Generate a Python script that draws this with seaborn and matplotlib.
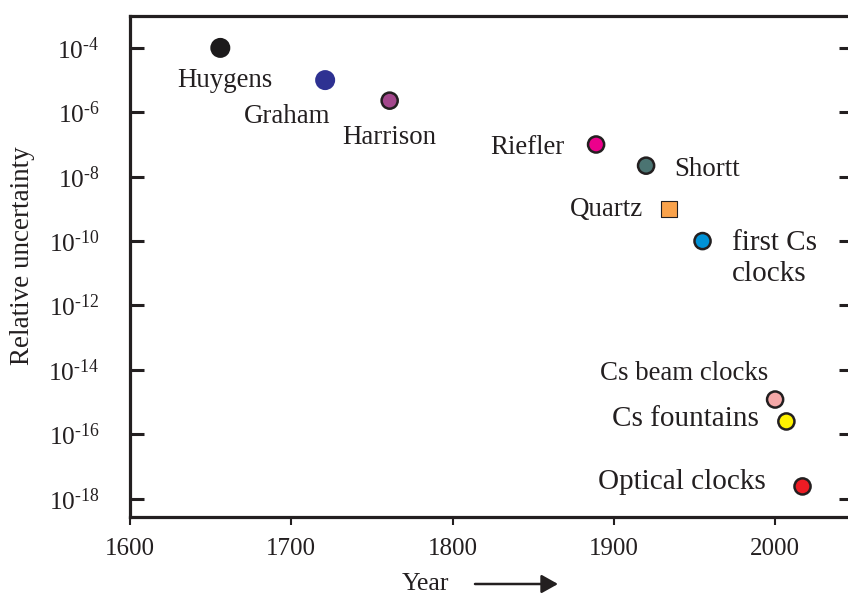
import numpy as np
import pandas as pd
import matplotlib
matplotlib.use("Agg")
import matplotlib.pyplot as plt
import seaborn as sns

# --- data -------------------------------------------------------------
clocks = ["Huygens", "Graham", "Harrison", "Riefler", "Shortt", "Quartz",
          "first Cs\nclocks", "Cs beam clocks", "Cs fountains", "Optical clocks"]
years = [1656, 1721, 1761, 1889, 1920, 1934, 1955, 2000, 2007, 2017]
uncertainty = [1e-4, 1e-5, 2.3e-6, 1e-7, 2.2e-8, 1e-9, 1e-10, 1.2e-15, 2.5e-16, 2.4e-18]
marker_kind = ["circle", "circle", "circle", "circle", "circle", "square",
               "circle", "circle", "circle", "circle"]

x_ticks = [1600, 1700, 1800, 1900, 2000]
y_exponents = [-4, -6, -8, -10, -12, -14, -16, -18]

# --- styling ----------------------------------------------------------
ink = "#231f20"
face_colors = {
    "Huygens": "#1c1a1b",
    "Graham": "#2e3192",
    "Harrison": "#a3478c",
    "Riefler": "#ec008c",
    "Shortt": "#4b7472",
    "Quartz": "#f9a24b",
    "first Cs\nclocks": "#0092d7",
    "Cs beam clocks": "#f5a8a8",
    "Cs fountains": "#fff200",
    "Optical clocks": "#ed1c24",
}
# edge colour / width per clock (the first two are plain filled dots)
edge_colors = ["#1c1a1b", "#2e3192"] + [ink] * 8
edge_widths = [2.8, 2.8, 1.8, 1.8, 1.8, 0.8, 1.8, 1.8, 1.8, 1.8]

# label placement: (dx px, dy px to last baseline, ha, fontsize)
label_style = {
    "Huygens": (5, -39, "center", 19.4),
    "Graham": (5, -43, "right", 19.4),
    "Harrison": (0, -43, "center", 19.4),
    "Riefler": (-32, -10, "right", 19.4),
    "Shortt": (28, -10, "left", 19.4),
    "Quartz": (-26, -7, "right", 19.4),
    "first Cs\nclocks": (29, -40, "left", 21),
    "Cs beam clocks": (-7, 20, "right", 19.4),
    "Cs fountains": (-28, -5, "right", 21),
    "Optical clocks": (-37, -3, "right", 21),
}

sns.set_style("white")
plt.rcParams["font.family"] = ["Liberation Serif", "DejaVu Serif"]
plt.rcParams["mathtext.fontset"] = "custom"
plt.rcParams["mathtext.rm"] = "Liberation Serif"
plt.rcParams["mathtext.it"] = "Liberation Serif:italic"
plt.rcParams["mathtext.bf"] = "Liberation Serif:bold"
plt.rcParams["text.color"] = ink

W, H = 848, 594
fig = plt.figure(figsize=(W / 100, H / 100), dpi=100)
ax_l, ax_r, ax_t, ax_b = 130, 853, 15.7, 516.7
ax = fig.add_axes([ax_l / W, 1 - ax_b / H, (ax_r - ax_l) / W, (ax_b - ax_t) / H])
ax.set_yscale("log")

df = pd.DataFrame({"clock": clocks, "year": years,
                   "uncertainty": uncertainty, "kind": marker_kind})

sns.scatterplot(data=df, x="year", y="uncertainty", hue="clock",
                palette=face_colors, style="kind",
                markers={"circle": "o", "square": "s"},
                s=11.6 ** 2, edgecolor=edge_colors, linewidth=edge_widths,
                legend=False, ax=ax, zorder=3, clip_on=False)

px = 0.72  # pixel -> point at 100 dpi
for name, yr, unc in zip(clocks, years, uncertainty):
    dx, dy, ha, fs = label_style[name]
    ax.annotate(name, xy=(yr, unc), xytext=(dx * px, dy * px),
                textcoords="offset points", ha=ha, va="baseline",
                fontsize=fs, color=ink, linespacing=1.25)

ax.set_xlim(1600, 2048.3)
ax.set_ylim(10 ** -18.56, 1e-3)

ax.set_xticks(x_ticks)
ax.set_xticklabels([str(t) for t in x_ticks])
ax.set_yticks([10.0 ** e for e in y_exponents])
ax.set_yticklabels(["$10^{\u2010%d}$" % (-e) for e in y_exponents])
ax.yaxis.set_minor_locator(matplotlib.ticker.NullLocator())
ax.xaxis.set_minor_locator(matplotlib.ticker.NullLocator())

ax.tick_params(axis="y", which="major", direction="in", length=10, width=2.2,
               left=True, right=True, labelsize=18.3, pad=22, color=ink,
               labelcolor=ink)
ax.tick_params(axis="x", which="major", direction="out", length=6, width=1.5,
               bottom=True, top=False, labelsize=18, pad=9, color=ink,
               labelcolor=ink)

for side in ["left", "right", "top", "bottom"]:
    ax.spines[side].set_visible(True)
    ax.spines[side].set_color(ink)
    ax.spines[side].set_linewidth(2.3)

ax.set_xlabel("")
ax.set_ylabel("")

fig.text(23 / W, 1 - 256 / H, "Relative uncertainty", rotation=90,
         ha="center", va="center", fontsize=19.5, color=ink)
fig.text(425 / W, 1 - 584 / H, "Year", ha="center", va="center",
         fontsize=18.5, color=ink)
ax.annotate("", xy=(558 / W, 1 - 584 / H), xytext=(475 / W, 1 - 584 / H),
            xycoords="figure fraction", textcoords="figure fraction",
            annotation_clip=False,
            arrowprops=dict(arrowstyle="-|>,head_length=0.5,head_width=0.28",
                            lw=1.8, color=ink, mutation_scale=20,
                            shrinkA=0, shrinkB=0))

fig.savefig("out.png", dpi=100)
